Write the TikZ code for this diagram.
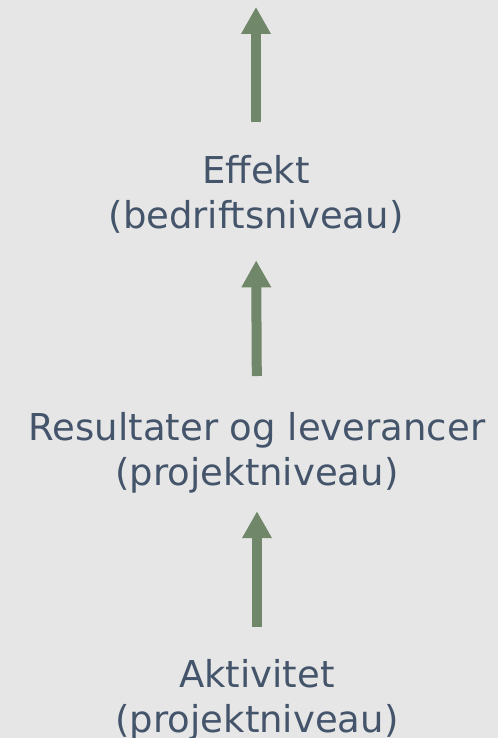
\documentclass[tikz,border=0pt]{standalone}
\usepackage{fontspec}
\setmainfont{DejaVu Sans}
\usetikzlibrary{arrows.meta}
\definecolor{bggray}{HTML}{E6E6E6}
\definecolor{textblue}{HTML}{44546A}
\definecolor{arrowgreen}{HTML}{71876A}
\begin{document}
\begin{tikzpicture}[x=1pt, y=-1pt,
        level/.style = {align=center, inner sep=0pt, anchor=north, text=textblue, font=\fontsize{37}{45}\selectfont},
        flow/.style = {draw=arrowgreen, line width=10pt, -{Triangle[width=28pt, length=27pt]}}]
    \fill[bggray] (0,0) rectangle (498,738);
    \useasboundingbox (0,0) rectangle (498,738);

    \node[level] (akt) at (257,659) {Aktivitet\\(projektniveau)};
    \node[level] (res) at (257,412) {Resultater og leverancer\\(projektniveau)};
    \node[level] (eff) at (256,155) {Effekt\\(bedriftsniveau)};
    \coordinate (top) at (256,7);

    \draw[flow, shorten <=32pt, shorten >=18pt] (akt.north) -- (res.south);
    \draw[flow, shorten <=36pt, shorten >=27pt] (res.north) -- (eff.south);
    \draw[flow, shorten <=33pt] (eff.north) -- (top);

\end{tikzpicture}
\end{document}
